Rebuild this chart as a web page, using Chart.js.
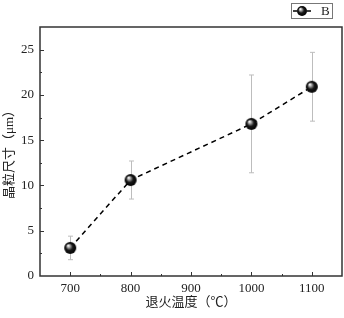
<!DOCTYPE html>
<html>
<head>
<meta charset="utf-8">
<script src="https://cdn.jsdelivr.net/npm/chart.js@4"></script>
<style>
  body { margin: 0; background: #fff; }
  canvas { display: block; }
</style>
</head>
<body>
<canvas id="chart" width="344" height="318"></canvas>
<script>
// data
const temps = [700, 800, 1000, 1100];
const grainSize = [3.1, 10.6, 16.8, 20.9];
const errLow = [1.8, 8.5, 11.4, 17.1];
const errHigh = [4.4, 12.7, 22.2, 24.7];
const xTicks = [700, 800, 900, 1000, 1100];
const yTicks = [0, 5, 10, 15, 20, 25];
const seriesName = 'B';

const serif = "'Liberation Serif', 'Times New Roman', 'Noto Sans CJK SC', serif";

// shiny black ball marker
function makeBall(r) {
  const c = document.createElement('canvas');
  c.width = c.height = r * 2 + 2;
  const g = c.getContext('2d');
  const cx = r + 1, cy = r + 1;
  const grad = g.createRadialGradient(cx - r * 0.35, cy - r * 0.4, 0.3, cx, cy, r);
  grad.addColorStop(0, '#ffffff');
  grad.addColorStop(0.25, '#9a9a9a');
  grad.addColorStop(0.55, '#1a1a1a');
  grad.addColorStop(1, '#000000');
  g.fillStyle = grad;
  g.beginPath();
  g.arc(cx, cy, r, 0, Math.PI * 2);
  g.fill();
  return c;
}
const ball = makeBall(6);
const legendBall = makeBall(5);

const extras = {
  id: 'extras',
  beforeDatasetsDraw(chart) {
    const ctx = chart.ctx;
    const x = chart.scales.x, y = chart.scales.y;
    ctx.save();
    ctx.strokeStyle = '#bdbdbd';
    ctx.lineWidth = 1;
    temps.forEach((t, i) => {
      const px = Math.round(x.getPixelForValue(t)) + 0.5;
      const top = y.getPixelForValue(errHigh[i]);
      const bot = y.getPixelForValue(errLow[i]);
      ctx.beginPath();
      ctx.moveTo(px, top); ctx.lineTo(px, bot);
      ctx.moveTo(px - 2.5, top); ctx.lineTo(px + 2.5, top);
      ctx.moveTo(px - 2.5, bot); ctx.lineTo(px + 2.5, bot);
      ctx.stroke();
    });
    ctx.restore();
  },
  afterDraw(chart) {
    const ctx = chart.ctx;
    const a = chart.chartArea;
    const x = chart.scales.x, y = chart.scales.y;
    ctx.save();
    ctx.strokeStyle = '#333';
    ctx.lineWidth = 1.5;
    ctx.strokeRect(a.left, a.top, a.right - a.left, a.bottom - a.top);
    ctx.lineWidth = 1;
    ctx.beginPath();
    // inward ticks, major + minor
    for (let v = 650; v <= 1150; v += 50) {
      const px = Math.round(x.getPixelForValue(v)) + 0.5;
      if (px <= a.left + 1 || px >= a.right - 1) continue;
      const len = xTicks.includes(v) ? 4 : 2;
      ctx.moveTo(px, a.bottom); ctx.lineTo(px, a.bottom - len);
    }
    for (let v = 0; v <= 27.5; v += 2.5) {
      const py = Math.round(y.getPixelForValue(v)) + 0.5;
      if (py >= a.bottom - 1 || py <= a.top + 1) continue;
      const len = yTicks.includes(v) ? 4 : 2;
      ctx.moveTo(a.left, py); ctx.lineTo(a.left + len, py);
    }
    ctx.stroke();

    // legend box
    ctx.strokeStyle = '#777';
    ctx.lineWidth = 1;
    ctx.strokeRect(291.5, 3.5, 41, 15);
    ctx.strokeStyle = '#000';
    ctx.lineWidth = 1.5;
    ctx.beginPath();
    ctx.moveTo(293, 11); ctx.lineTo(297, 11);
    ctx.moveTo(307, 11); ctx.lineTo(311, 11);
    ctx.stroke();
    ctx.drawImage(legendBall, 302 - legendBall.width / 2, 11 - legendBall.height / 2);
    ctx.fillStyle = '#222';
    ctx.font = '13px ' + serif;
    ctx.textBaseline = 'middle';
    ctx.fillText(seriesName, 321, 11.5);
    ctx.restore();
  }
};

new Chart(document.getElementById('chart'), {
  type: 'line',
  data: {
    datasets: [{
      label: seriesName,
      data: temps.map((t, i) => ({ x: t, y: grainSize[i] })),
      borderColor: '#000',
      borderWidth: 1.5,
      borderDash: [5, 4],
      pointStyle: ball,
      pointRadius: 6,
      pointHoverRadius: 6,
      tension: 0,
      fill: false
    }]
  },
  options: {
    responsive: false,
    animation: false,
    devicePixelRatio: 1,
    layout: { autoPadding: false, padding: { top: 27, right: 2, left: 0, bottom: 0 } },
    plugins: { legend: { display: false }, tooltip: { enabled: false } },
    scales: {
      x: {
        type: 'linear',
        min: 650, max: 1150,
        grid: { display: false, drawTicks: false },
        border: { display: false },
        afterBuildTicks: s => { s.ticks = xTicks.map(v => ({ value: v })); },
        afterFit: s => { s.height = 42; },
        ticks: { color: '#222', font: { family: serif, size: 13 }, padding: 5, autoSkip: false, maxRotation: 0, callback: v => String(v) },
        title: { display: true, text: '退火温度（℃）', color: '#222', font: { family: serif, size: 13 }, padding: { top: 0, bottom: 8 } }
      },
      y: {
        min: 0, max: 27.5,
        grid: { display: false, drawTicks: false },
        border: { display: false },
        afterBuildTicks: s => { s.ticks = yTicks.map(v => ({ value: v })); },
        afterFit: s => { s.width = 40; },
        ticks: { color: '#222', font: { family: serif, size: 13 }, padding: 6, autoSkip: false, callback: v => String(v) },
        title: { display: true, text: '晶粒尺寸（μm）', color: '#222', font: { family: serif, size: 13 }, padding: { top: 2, bottom: 0 } }
      }
    }
  },
  plugins: [extras]
});
</script>
</body>
</html>
